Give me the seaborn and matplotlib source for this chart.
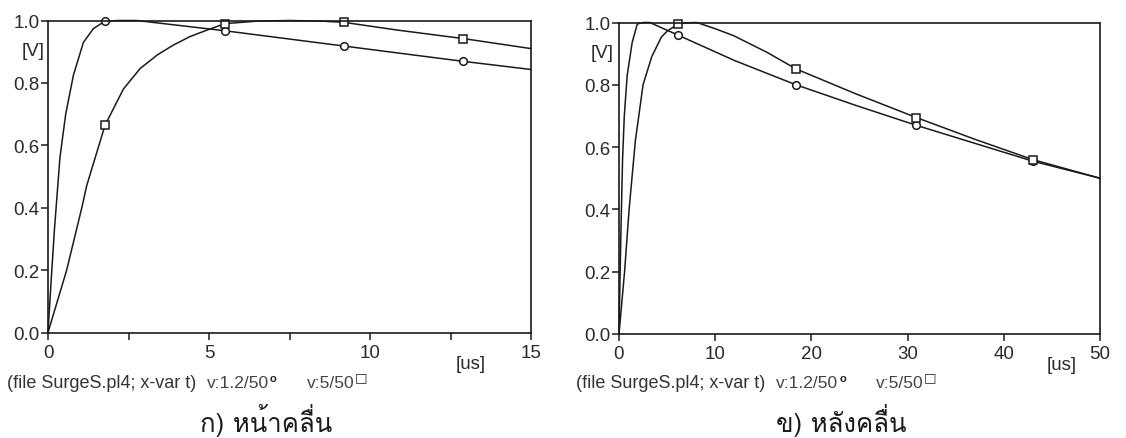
import numpy as np
import pandas as pd
import matplotlib
matplotlib.use("Agg")
import matplotlib.pyplot as plt
import seaborn as sns
from matplotlib import font_manager
from matplotlib.ft2font import FT2Font

# ---------------- data ----------------
# left panel: wave front, 0..15 us
front_t_12 = [0, 0.1, 0.2, 0.37, 0.55, 0.79, 1.1, 1.41, 1.77, 2.2, 2.76, 5.5, 9.2, 12.9, 15]
front_v_12 = [0, 0.17, 0.33, 0.56, 0.7, 0.825, 0.93, 0.974, 0.998, 1.0, 1.0, 0.967, 0.918, 0.869, 0.843]
front_t_5 = [0, 0.58, 1.05, 1.2, 1.77, 2.34, 2.86, 3.4, 3.89, 4.4, 4.93, 5.5, 6.5, 7.5, 8.5, 9.2, 10.8, 12.9, 15]
front_v_5 = [0, 0.2, 0.4, 0.47, 0.664, 0.78, 0.846, 0.89, 0.921, 0.948, 0.969, 0.99, 0.998, 1.0, 0.998, 0.994, 0.97, 0.942, 0.91]
front_marks = [1.77, 5.5, 9.2, 12.9]

# right panel: wave tail, 0..50 us
tail_t_12 = [0, 0.1, 0.2, 0.37, 0.55, 0.85, 1.37, 1.9, 2.5, 3.2, 6.1, 12, 18.4, 24.7, 30.9, 43, 50]
tail_v_12 = [0, 0.17, 0.33, 0.56, 0.7, 0.83, 0.936, 0.995, 1.0, 1.0, 0.96, 0.878, 0.80, 0.733, 0.67, 0.555, 0.5]
tail_t_5 = [0, 0.58, 1.05, 1.7, 2.5, 3.4, 4.4, 5.0, 6.1, 7.0, 8.1, 10, 11.9, 15.4, 18.4, 24.7, 30.9, 37, 43, 50]
tail_v_5 = [0, 0.2, 0.4, 0.62, 0.8, 0.89, 0.953, 0.972, 0.995, 0.999, 1.0, 0.98, 0.958, 0.904, 0.851, 0.77, 0.695, 0.625, 0.56, 0.5]
tail_marks = [6.1, 18.4, 30.9, 43]

y_ticks = [0.0, 0.2, 0.4, 0.6, 0.8, 1.0]
y_ticklabels = ["0.0", "0.2", "0.4", "0.6", "0.8", "1.0"]
front_xticks = [0, 2.5, 5, 7.5, 10, 12.5, 15]
front_xticklabels = ["0", "", "5", "", "10", "", "15"]
tail_xticks = [0, 10, 20, 30, 40, 50]
tail_xticklabels = ["0", "10", "20", "30", "40", "50"]

footnote_a = "(file SurgeS.pl4; x-var t)"
footnote_b = "v:1.2/50"
footnote_c = "v:5/50"
caption_left = "ก) หน้าคลื่น"
caption_right = "ข) หลังคลื่น"


def find_family(ch):
    seen = set()
    for f in font_manager.fontManager.ttflist:
        if f.fname in seen:
            continue
        seen.add(f.fname)
        try:
            ft = FT2Font(f.fname)
            if ord(ch) in ft.get_charmap():
                return f.name
        except Exception:
            pass
    return "DejaVu Sans"


sns.set_theme(style="white")
plt.rcParams["font.family"] = ["Liberation Sans", "DejaVu Sans"]
thai_family = find_family("ก")

INK = "#1a1a1a"
TXT = "#2a2a2a"
W, H = 1126, 439
fig = plt.figure(figsize=(W / 100, H / 100), dpi=100)
axL = fig.add_axes([48 / W, 1 - 333.5 / H, 483 / W, 312 / H])
axR = fig.add_axes([619 / W, 1 - 335 / H, 481 / W, 311.5 / H])


def draw(ax, t1, v1, t2, v2, marks):
    d1 = pd.DataFrame({"t": t1, "v": v1})
    d2 = pd.DataFrame({"t": t2, "v": v2})
    m1 = [i for i, t in enumerate(t1) if t in marks]
    m2 = [i for i, t in enumerate(t2) if t in marks]
    sns.lineplot(data=d1, x="t", y="v", ax=ax, sort=False, estimator=None,
                 color=INK, linewidth=1.1, marker="o", markersize=5.5,
                 markevery=m1, markerfacecolor="white", markeredgecolor=INK,
                 markeredgewidth=1.1, clip_on=False)
    sns.lineplot(data=d2, x="t", y="v", ax=ax, sort=False, estimator=None,
                 color=INK, linewidth=1.1, marker="s", markersize=6,
                 markevery=m2, markerfacecolor="white", markeredgecolor=INK,
                 markeredgewidth=1.1, clip_on=False)
    ax.set_ylim(0, 1.0)
    ax.set_yticks(y_ticks)
    ax.set_yticklabels(y_ticklabels)
    ax.set_xlabel("")
    ax.set_ylabel("")
    for s in ax.spines.values():
        s.set_visible(True)
        s.set_color(INK)
        s.set_linewidth(1.2)
    ax.tick_params(axis="both", direction="out", length=5, width=1.1, color=INK,
                   labelsize=13.5, labelcolor=TXT, left=True, bottom=True)
    ax.tick_params(axis="y", pad=1)
    ax.tick_params(axis="x", pad=3)
    ax.set_facecolor("white")


draw(axL, front_t_12, front_v_12, front_t_5, front_v_5, front_marks)
axL.set_xlim(0, 15)
axL.set_xticks(front_xticks)
axL.set_xticklabels(front_xticklabels)

draw(axR, tail_t_12, tail_v_12, tail_t_5, tail_v_5, tail_marks)
axR.set_xlim(0, 50)
axR.set_xticks(tail_xticks)
axR.set_xticklabels(tail_xticklabels)

# axis unit labels
fig.text(33 / W, 1 - 52 / H, "[V]", ha="center", va="center", fontsize=13.5, color=TXT)
fig.text(602 / W, 1 - 54 / H, "[V]", ha="center", va="center", fontsize=13.5, color=TXT)
fig.text(471 / W, 1 - 365 / H, "[us]", ha="center", va="center", fontsize=13.5, color=TXT)
fig.text(1062 / W, 1 - 366 / H, "[us]", ha="center", va="center", fontsize=13.5, color=TXT)

# footnotes (pieces placed one after another using measured extents)
renderer = fig.canvas.get_renderer()
FY = 384


def right_edge(t):
    return t.get_window_extent(renderer).x1


for x0 in (7, 576):
    fig.text(x0 / W, 1 - FY / H, footnote_a, ha="left", va="center", fontsize=13, color="#333333")
    tb = fig.text((x0 + 200) / W, 1 - FY / H, footnote_b, ha="left", va="center", fontsize=12.5, color="#444444")
    xe = right_edge(tb)
    fig.text((xe + 1) / W, 1 - (FY - 5) / H, "o", ha="left", va="center", fontsize=8,
             color="#222222", fontweight="bold")
    tc = fig.text((x0 + 300) / W, 1 - FY / H, footnote_c, ha="left", va="center", fontsize=12.5, color="#444444")
    xe = right_edge(tc)
    fig.text((xe + 0.5) / W, 1 - (FY - 6) / H, "□", ha="left", va="center", fontsize=9.5,
             color="#222222", fontweight="bold", family="DejaVu Sans")

# captions
fig.text(266.5 / W, 1 - 432 / H, caption_left, ha="center", va="baseline", fontsize=18.5,
         color="#1a1a1a", family=[thai_family, "DejaVu Sans"])
fig.text(841 / W, 1 - 432 / H, caption_right, ha="center", va="baseline", fontsize=18.5,
         color="#1a1a1a", family=[thai_family, "DejaVu Sans"])

fig.savefig("out.png", dpi=100, facecolor="white")
